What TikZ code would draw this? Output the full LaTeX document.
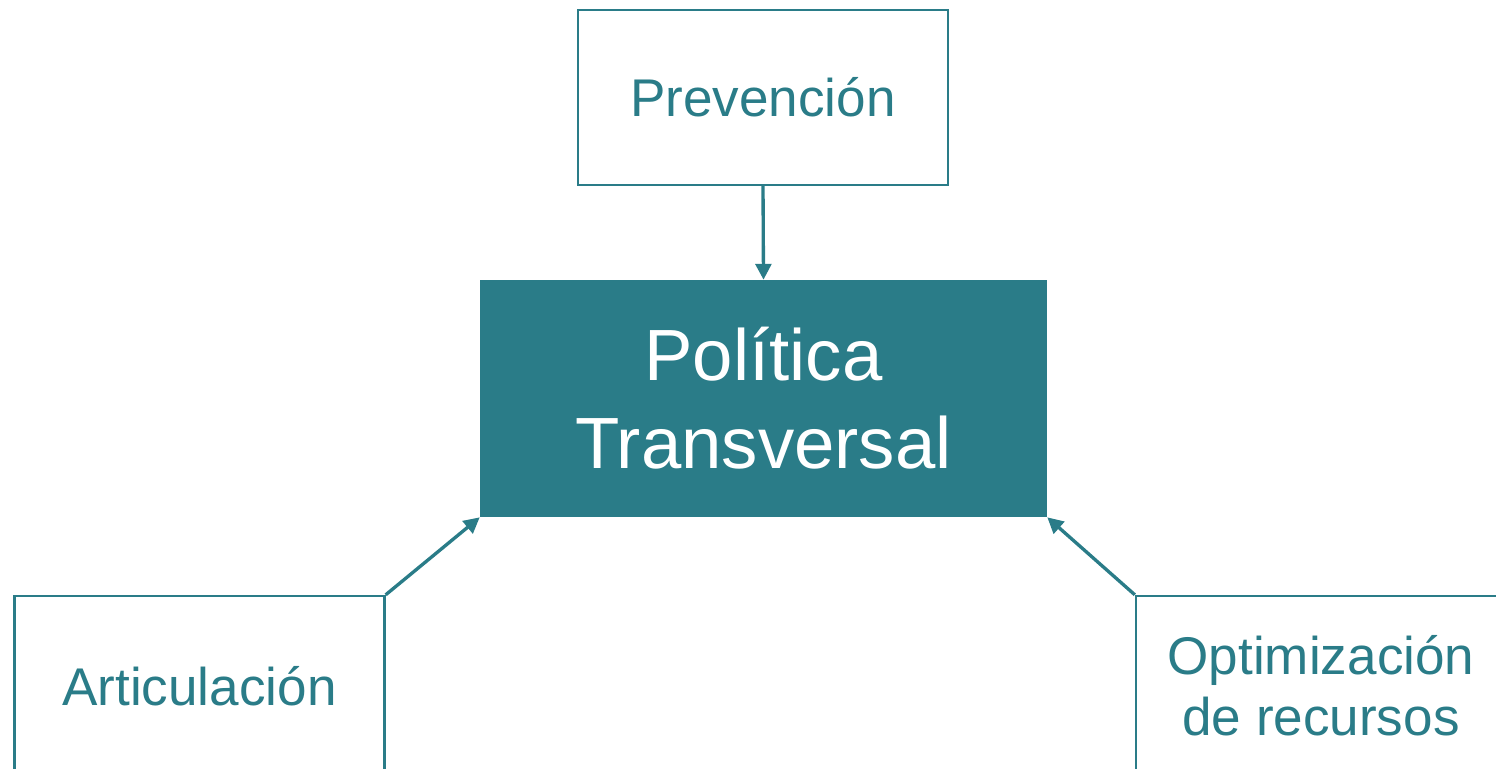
\documentclass[tikz,border=0pt]{standalone}
\usepackage{fontspec}
\setmainfont{Liberation Sans}
\usetikzlibrary{arrows.meta}
\definecolor{petrol}{RGB}{42,124,136}

\begin{document}
\begin{tikzpicture}[
        x=0.02cm, y=-0.02cm,
        outerbox/.style={draw=petrol, line width=1.4pt, fill=white, text=petrol,
            minimum width=7.4cm, minimum height=3.5cm, align=center, inner sep=0pt,
            font=\fontsize{30.2}{34.6}\selectfont},
        mainbox/.style={fill=petrol, text=white, minimum width=11.34cm, minimum height=4.74cm,
            align=center, inner sep=0pt, font=\fontsize{41.3}{50}\selectfont},
        conn/.style={draw=petrol, line width=1.9pt, -{Triangle[width=9pt,length=9pt]}}
    ]
        \useasboundingbox (0,0) rectangle (1496,768);

        \node[mainbox] (pol) at (763.5,398.5) {Política\\Transversal};

        \node[outerbox] (prev) at (763,97.5) {Prevención};
        \node[outerbox, minimum height=3.6cm] (art) at (199.5,686) {Articulación};
        \node[outerbox, minimum height=3.6cm] (opt) at (1321,686) {Optimización\\de recursos};

        \draw[conn] (prev.south) -- (pol.north);
        \draw[conn] (art.north east) -- (pol.south west);
        \draw[conn] (opt.north west) -- (pol.south east);
    \end{tikzpicture}
\end{document}
